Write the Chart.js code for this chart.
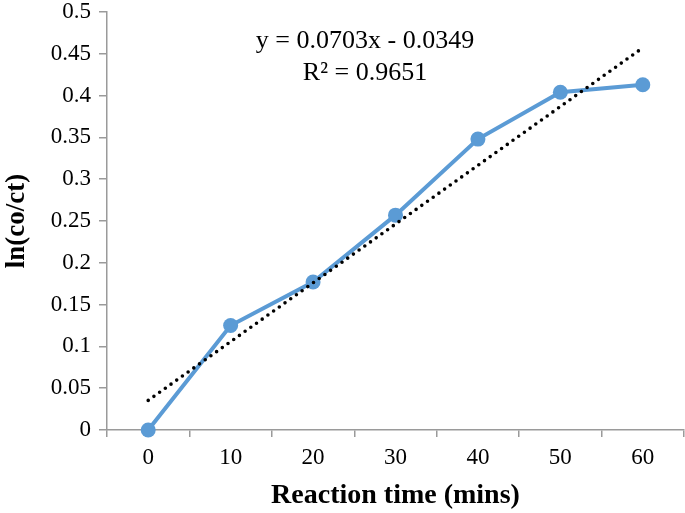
<!DOCTYPE html>
<html>
<head>
<meta charset="utf-8">
<script src="https://cdn.jsdelivr.net/npm/chart.js@4/dist/chart.umd.min.js"></script>
<style>
html,body{margin:0;padding:0;background:#fff;}
#wrap{width:685px;height:513px;position:relative;}
</style>
</head>
<body>
<div id="wrap"><canvas id="c" width="685" height="513"></canvas></div>
<script>
// Data
const categories = ['0', '10', '20', '30', '40', '50', '60'];
const lnValues = [0, 0.125, 0.177, 0.257, 0.348, 0.404, 0.413];
// Linear trendline end points (as drawn in the picture)
const trendValues = [0.0354, null, null, null, null, null, 0.4572];
const equationLines = ['y = 0.0703x - 0.0349', 'R\u00B2 = 0.9651'];
const xTitle = 'Reaction time (mins)';
const yTitle = 'ln(co/ct)';

const FONT = "'Liberation Serif', 'Times New Roman', serif";
const AXIS = '#9a9a9a';

const eqPlugin = {
  id: 'eq',
  afterDatasetsDraw(chart) {
    const ctx = chart.ctx;
    ctx.save();
    ctx.fillStyle = '#000';
    ctx.font = "26px " + FONT;
    ctx.textAlign = 'center';
    ctx.textBaseline = 'alphabetic';
    ctx.fillText(equationLines[0], 365, 48);
    ctx.fillText(equationLines[1], 365, 80);
    ctx.restore();
  }
};

new Chart(document.getElementById('c'), {
  type: 'line',
  data: {
    labels: categories,
    datasets: [
      {
        data: lnValues,
        borderColor: '#5B9BD5',
        backgroundColor: '#5B9BD5',
        borderWidth: 4,
        pointRadius: 7.5,
        pointHoverRadius: 7.5,
        pointBorderWidth: 0,
        tension: 0,
        clip: false,
        order: 2
      },
      {
        data: trendValues,
        spanGaps: true,
        borderColor: '#000',
        borderWidth: 3.6,
        borderDash: [0, 7],
        borderCapStyle: 'round',
        pointRadius: 0,
        tension: 0,
        clip: false,
        order: 1
      }
    ]
  },
  options: {
    responsive: false,
    animation: false,
    devicePixelRatio: 1,
    layout: { autoPadding: false, padding: { top: 12, right: 1, left: 0, bottom: 0 } },
    plugins: { legend: { display: false }, tooltip: { enabled: false } },
    scales: {
      x: {
        type: 'category',
        offset: true,
        grid: { display: true, offset: true, drawOnChartArea: false, color: AXIS, tickLength: 7, lineWidth: 1.5 },
        border: { display: true, color: AXIS, width: 1.5 },
        ticks: { color: '#000', font: { family: FONT, size: 23 }, padding: 7, maxRotation: 0 },
        title: { display: true, text: xTitle, color: '#000', font: { family: FONT, size: 28, weight: 'bold' }, padding: { top: 0, bottom: 0 } },
        afterFit(scale) { scale.height = 83; scale.paddingLeft = 0; scale.paddingRight = 0; }
      },
      y: {
        min: 0,
        max: 0.5,
        ticks: {
          stepSize: 0.05,
          color: '#000',
          font: { family: FONT, size: 23 },
          padding: 8,
          callback: (v) => String(Number(Number(v).toFixed(2)))
        },
        grid: { display: true, drawOnChartArea: false, color: AXIS, tickLength: 8, lineWidth: 1.5 },
        border: { display: true, color: AXIS, width: 1.5 },
        title: { display: true, text: yTitle, color: '#000', font: { family: FONT, size: 27, weight: 'bold' }, padding: { top: 1, bottom: 0 } },
        afterFit(scale) { scale.width = 107; scale.paddingTop = 0; scale.paddingBottom = 0; }
      }
    }
  },
  plugins: [eqPlugin]
});
</script>
</body>
</html>
